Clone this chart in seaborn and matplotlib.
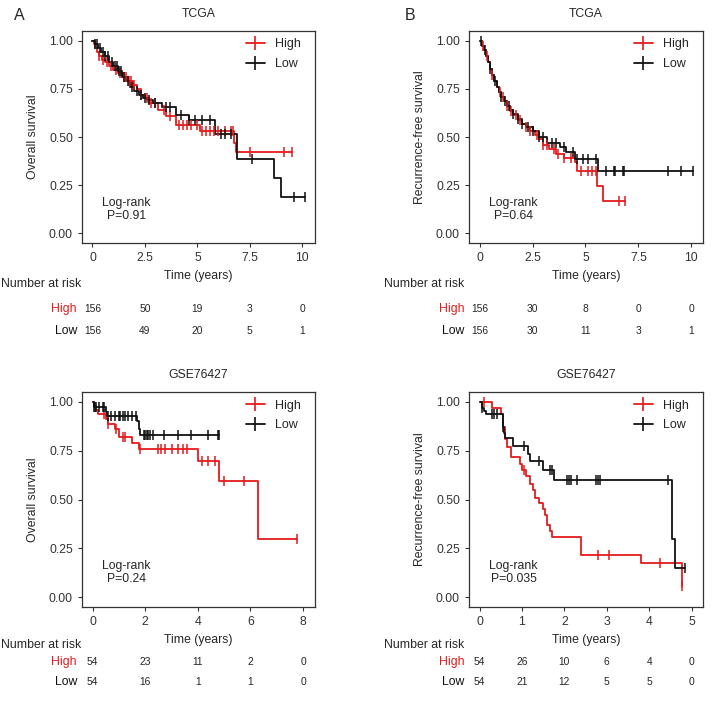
import numpy as np
import pandas as pd
import seaborn as sns
import matplotlib.pyplot as plt
from matplotlib.lines import Line2D
from matplotlib.transforms import blended_transform_factory

sns.set_style("ticks")
plt.rcParams['font.family'] = ['Liberation Sans', 'DejaVu Sans']

RED = '#E41A1C'
BLACK = '#111111'

# ---- TCGA overall survival ----
tcga_os_high_t = [0, 0.05, 0.1, 0.2, 0.3, 0.45, 0.6, 0.8, 1.0, 1.2, 1.45, 1.7, 1.95, 2.1, 2.3, 2.5, 2.7, 3.1, 3.5, 4.0, 5.1, 6.75, 6.85]
tcga_os_high_s = [1.0, 0.98, 0.96, 0.94, 0.92, 0.90, 0.89, 0.87, 0.85, 0.83, 0.81, 0.79, 0.77, 0.75, 0.72, 0.70, 0.675, 0.64, 0.607, 0.56, 0.53, 0.47, 0.42]
tcga_os_high_end = 9.5
tcga_os_high_cens = [0.3, 0.5, 0.7, 0.9, 1.1, 1.3, 1.5, 1.6, 1.75, 1.85, 2.0, 2.3, 2.6, 2.8, 3.0, 3.4, 3.7, 4.1, 4.3, 4.5, 4.7, 5.0, 5.2, 5.4, 5.6, 5.8, 6.0, 6.3, 6.6, 6.7, 7.5, 9.1, 9.5]
tcga_os_low_t = [0, 0.1, 0.25, 0.4, 0.6, 0.8, 1.0, 1.2, 1.4, 1.6, 1.8, 2.0, 2.2, 2.4, 2.6, 2.9, 3.3, 4.0, 4.6, 5.85, 6.9, 8.65, 9.0]
tcga_os_low_s = [1.0, 0.98, 0.96, 0.94, 0.92, 0.89, 0.87, 0.84, 0.81, 0.79, 0.76, 0.74, 0.72, 0.70, 0.69, 0.675, 0.655, 0.615, 0.586, 0.513, 0.385, 0.285, 0.19]
tcga_os_low_end = 10.1
tcga_os_low_cens = [0.1, 0.2, 0.35, 0.5, 0.6, 0.75, 0.95, 1.05, 1.15, 1.25, 1.35, 1.5, 1.7, 1.9, 2.1, 2.3, 2.5, 2.7, 3.0, 3.5, 3.7, 4.2, 4.6, 4.9, 5.2, 5.6, 6.1, 6.3, 6.6, 7.6, 9.6, 10.1]

# ---- TCGA recurrence-free survival ----
tcga_rfs_high_t = [0, 0.1, 0.2, 0.3, 0.4, 0.5, 0.6, 0.7, 0.8, 0.9, 1.0, 1.15, 1.3, 1.45, 1.6, 1.8, 2.0, 2.2, 2.4, 2.6, 2.8, 3.0, 3.3, 3.6, 4.0, 4.5, 4.6, 5.55, 5.85]
tcga_rfs_high_s = [1.0, 0.97, 0.95, 0.92, 0.89, 0.855, 0.82, 0.79, 0.76, 0.735, 0.71, 0.685, 0.66, 0.635, 0.615, 0.59, 0.57, 0.55, 0.53, 0.51, 0.49, 0.46, 0.44, 0.41, 0.39, 0.37, 0.325, 0.248, 0.166]
tcga_rfs_high_end = 6.85
tcga_rfs_high_cens = [0.15, 0.35, 0.6, 0.95, 1.1, 1.3, 1.5, 1.7, 1.9, 2.2, 2.4, 2.7, 3.0, 3.2, 3.5, 3.7, 4.0, 4.3, 4.8, 5.1, 5.3, 5.5, 6.6, 6.85]
tcga_rfs_low_t = [0, 0.1, 0.2, 0.3, 0.4, 0.5, 0.6, 0.7, 0.8, 0.9, 1.0, 1.15, 1.3, 1.45, 1.6, 1.8, 2.0, 2.2, 2.5, 2.8, 3.2, 3.8, 4.1, 4.5, 5.6]
tcga_rfs_low_s = [1.0, 0.97, 0.95, 0.92, 0.89, 0.855, 0.82, 0.79, 0.76, 0.735, 0.71, 0.685, 0.66, 0.64, 0.62, 0.595, 0.57, 0.55, 0.53, 0.50, 0.47, 0.45, 0.42, 0.385, 0.325]
tcga_rfs_low_end = 10.1
tcga_rfs_low_cens = [0.05, 0.25, 0.5, 0.75, 1.0, 1.2, 1.4, 1.6, 1.8, 2.0, 2.3, 2.5, 2.8, 3.0, 3.4, 3.6, 4.0, 4.4, 4.6, 4.9, 5.1, 5.5, 5.95, 6.35, 6.4, 6.75, 6.8, 8.9, 9.5, 10.1]

# ---- GSE76427 overall survival ----
gse_os_high_t = [0, 0.05, 0.12, 0.2, 0.5, 0.6, 0.85, 1.0, 1.5, 1.75, 4.0, 4.8, 6.3]
gse_os_high_s = [1.0, 0.98, 0.96, 0.94, 0.91, 0.885, 0.86, 0.82, 0.79, 0.757, 0.696, 0.597, 0.296]
gse_os_high_end = 7.75
gse_os_high_cens = [0.45, 0.6, 0.9, 1.15, 1.25, 1.8, 2.5, 2.6, 2.75, 3.0, 3.25, 3.45, 3.6, 4.15, 4.4, 4.65, 5.0, 5.75, 7.75]
gse_os_low_t = [0, 0.05, 0.5, 0.55, 1.7, 1.75, 1.8]
gse_os_low_s = [1.0, 0.975, 0.95, 0.925, 0.90, 0.86, 0.83]
gse_os_low_end = 4.8
gse_os_low_cens = [0.05, 0.1, 0.15, 0.25, 0.4, 0.45, 0.6, 0.7, 0.85, 1.0, 1.05, 1.15, 1.25, 1.35, 1.5, 1.65, 1.95, 2.0, 2.05, 2.1, 2.2, 2.3, 2.7, 3.25, 3.75, 4.4, 4.75, 4.8]

# ---- GSE76427 recurrence-free survival ----
gse_rfs_high_t = [0, 0.3, 0.5, 0.55, 0.6, 0.65, 0.75, 0.95, 1.0, 1.1, 1.2, 1.25, 1.3, 1.4, 1.5, 1.55, 1.6, 1.65, 1.7, 2.4, 3.8, 4.78]
gse_rfs_high_s = [1.0, 0.97, 0.94, 0.87, 0.81, 0.77, 0.72, 0.68, 0.65, 0.62, 0.58, 0.55, 0.51, 0.48, 0.45, 0.42, 0.37, 0.34, 0.31, 0.217, 0.174, 0.06]
gse_rfs_high_end = 4.78
gse_rfs_high_cens = [0.1, 1.05, 2.8, 3.05, 4.25, 4.78]
gse_rfs_low_t = [0, 0.05, 0.1, 0.15, 0.55, 0.58, 0.6, 0.78, 1.15, 1.2, 1.5, 1.75, 4.55, 4.6]
gse_rfs_low_s = [1.0, 0.97, 0.955, 0.935, 0.87, 0.84, 0.815, 0.775, 0.735, 0.696, 0.653, 0.60, 0.30, 0.15]
gse_rfs_low_end = 4.85
gse_rfs_low_cens = [0.05, 0.3, 0.35, 0.4, 0.55, 1.05, 1.4, 1.65, 1.7, 2.05, 2.1, 2.15, 2.3, 2.75, 2.8, 2.85, 4.45, 4.85]

# ---- numbers at risk ----
tcga_risk_times = [0, 2.5, 5, 7.5, 10]
tcga_os_risk_high = [156, 50, 19, 3, 0]
tcga_os_risk_low = [156, 49, 20, 5, 1]
tcga_rfs_risk_high = [156, 30, 8, 0, 0]
tcga_rfs_risk_low = [156, 30, 11, 3, 1]
gse_os_risk_times = [0, 2, 4, 6, 8]
gse_os_risk_high = [54, 23, 11, 2, 0]
gse_os_risk_low = [54, 16, 1, 1, 0]
gse_rfs_risk_times = [0, 1, 2, 3, 4, 5]
gse_rfs_risk_high = [54, 26, 10, 6, 4, 0]
gse_rfs_risk_low = [54, 21, 12, 5, 5, 0]

W, H = 722, 702
fig = plt.figure(figsize=(W / 100, H / 100), dpi=100)
FS = 8.8


def km_curve(ax, t, s, end, cens, color):
    df = pd.DataFrame({'time': list(t) + [end], 'surv': list(s) + [s[-1]]})
    sns.lineplot(data=df, x='time', y='surv', drawstyle='steps-post', color=color,
                 lw=1.3, estimator=None, sort=False, ax=ax)
    idx = np.searchsorted(np.array(t), np.array(cens), side='right') - 1
    cdf = pd.DataFrame({'time': cens, 'surv': np.array(s)[idx]})
    sns.scatterplot(data=cdf, x='time', y='surv', marker='|', s=60, linewidth=1.1,
                    color=color, ax=ax, zorder=3)


def panel(box, title, ylabel, xlim, xticks, curves, pval, risk_times, risk_high, risk_low,
          row_y, lab_x):
    l, t, r, b = box
    ax = fig.add_axes([l / W, 1 - b / H, (r - l) / W, (b - t) / H])
    for c in curves:
        km_curve(ax, *c)
    ax.set_xlim(*xlim)
    ax.set_ylim(-0.05, 1.05)
    ax.set_xticks(xticks)
    ax.set_xticklabels([f'{v:g}' for v in xticks])
    ax.set_yticks([0, 0.25, 0.5, 0.75, 1.0])
    ax.set_yticklabels(['0.00', '0.25', '0.50', '0.75', '1.00'])
    ax.tick_params(labelsize=FS, colors='#333333', labelcolor='#333333', length=3, width=0.8)
    for sp in ax.spines.values():
        sp.set_visible(True)
        sp.set_color('#333333')
        sp.set_linewidth(0.9)
    ax.set_xlabel('Time (years)', fontsize=FS, labelpad=4)
    ax.set_ylabel(ylabel, fontsize=FS, labelpad=7)
    ax.set_title(title, fontsize=FS, pad=10)
    handles = [Line2D([], [], color=RED, marker='|', markersize=10, lw=1.3, mew=1.2),
               Line2D([], [], color=BLACK, marker='|', markersize=10, lw=1.3, mew=1.2)]
    ax.legend(handles, ['High', 'Low'], loc='upper right', frameon=False, fontsize=9,
              handlelength=1.5, borderaxespad=0.2, labelspacing=0.6, bbox_to_anchor=(0.97, 1.0))
    ax.text(0.19, 0.16, 'Log-rank\nP=' + pval, transform=ax.transAxes, ha='center',
            va='center', fontsize=FS, linespacing=1.1)
    # risk table
    tr = blended_transform_factory(ax.transData, fig.transFigure)
    fig.text(lab_x[0] / W, 1 - row_y[0] / H, 'Number at risk', fontsize=FS, va='center')
    fig.text(lab_x[1] / W, 1 - row_y[1] / H, 'High', color=RED, fontsize=FS, ha='right', va='center')
    fig.text(lab_x[1] / W, 1 - row_y[2] / H, 'Low', color=BLACK, fontsize=FS, ha='right', va='center')
    for x, n in zip(risk_times, risk_high):
        ax.text(x, 1 - row_y[1] / H, str(n), transform=tr, fontsize=7.4, ha='center', va='center')
    for x, n in zip(risk_times, risk_low):
        ax.text(x, 1 - row_y[2] / H, str(n), transform=tr, fontsize=7.4, ha='center', va='center')
    return ax


panel((82, 31, 315, 243), 'TCGA', 'Overall survival', (-0.5, 10.6), [0, 2.5, 5, 7.5, 10],
      [(tcga_os_high_t, tcga_os_high_s, tcga_os_high_end, tcga_os_high_cens, RED),
       (tcga_os_low_t, tcga_os_low_s, tcga_os_low_end, tcga_os_low_cens, BLACK)],
      '0.91', tcga_risk_times, tcga_os_risk_high, tcga_os_risk_low, (284, 309, 331), (1, 77))

panel((469, 31, 703, 243), 'TCGA', 'Recurrence-free survival', (-0.5, 10.55), [0, 2.5, 5, 7.5, 10],
      [(tcga_rfs_high_t, tcga_rfs_high_s, tcga_rfs_high_end, tcga_rfs_high_cens, RED),
       (tcga_rfs_low_t, tcga_rfs_low_s, tcga_rfs_low_end, tcga_rfs_low_cens, BLACK)],
      '0.64', tcga_risk_times, tcga_rfs_risk_high, tcga_rfs_risk_low, (284, 309, 331), (384, 464))

panel((82, 392, 315, 607), 'GSE76427', 'Overall survival', (-0.4, 8.45), [0, 2, 4, 6, 8],
      [(gse_os_high_t, gse_os_high_s, gse_os_high_end, gse_os_high_cens, RED),
       (gse_os_low_t, gse_os_low_s, gse_os_low_end, gse_os_low_cens, BLACK)],
      '0.24', gse_os_risk_times, gse_os_risk_high, gse_os_risk_low, (645, 662, 682), (1, 77))

panel((469, 392, 703, 607), 'GSE76427', 'Recurrence-free survival', (-0.25, 5.27), [0, 1, 2, 3, 4, 5],
      [(gse_rfs_high_t, gse_rfs_high_s, gse_rfs_high_end, gse_rfs_high_cens, RED),
       (gse_rfs_low_t, gse_rfs_low_s, gse_rfs_low_end, gse_rfs_low_cens, BLACK)],
      '0.035', gse_rfs_risk_times, gse_rfs_risk_high, gse_rfs_risk_low, (645, 662, 682), (384, 464))

fig.text(14 / W, 1 - 15 / H, 'A', fontsize=11.5, va='center')
fig.text(405 / W, 1 - 15 / H, 'B', fontsize=11.5, va='center')

fig.savefig('out.png', dpi=100)
